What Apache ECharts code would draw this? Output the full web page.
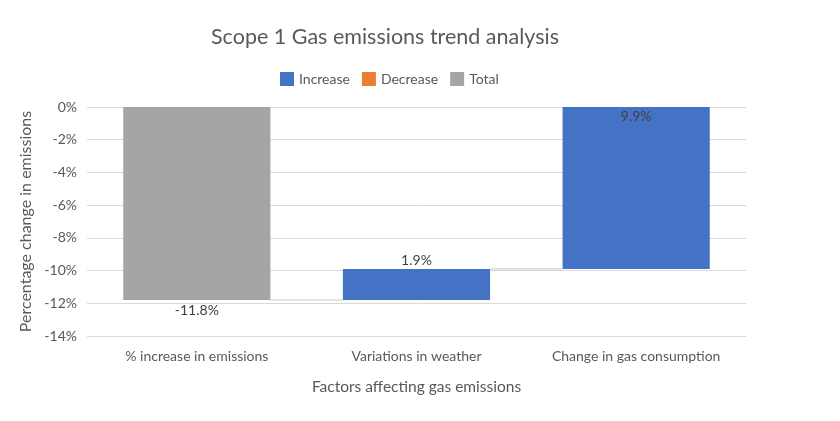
<!DOCTYPE html>
<html>
<head>
<meta charset="utf-8">
<script src="https://cdn.jsdelivr.net/npm/echarts@6/dist/echarts.min.js"></script>
<style>
  html, body { margin: 0; padding: 0; background: #fff; }
  #main { width: 840px; height: 421px; }
</style>
</head>
<body>
<div id="main"></div>
<script>
// data
var categories = ['% increase in emissions', 'Variations in weather', 'Change in gas consumption'];
var changes = [-11.8, 1.9, 9.9];
var kinds = ['total', 'increase', 'increase'];
var yTicks = { min: -14, max: 0, step: 2 };

// waterfall: work out where each bar starts and ends
var helper = [], incData = [], decData = [], totData = [], levels = [];
var level = 0;
for (var i = 0; i < changes.length; i++) {
    var from, to;
    if (kinds[i] === 'total') { from = 0; to = changes[i]; }
    else { from = level; to = level + changes[i]; }
    level = to;
    levels.push(level);
    var hi = Math.max(from, to), lo = Math.min(from, to);
    if (kinds[i] === 'total') {
        helper.push('-'); totData.push(lo); incData.push('-'); decData.push('-');
    } else {
        helper.push(hi);
        var amt = lo - hi;
        incData.push(kinds[i] === 'increase' ? amt : '-');
        decData.push(kinds[i] === 'decrease' ? amt : '-');
        totData.push('-');
    }
}

var labelPos = ['bottom', 'top', 'insideTop'];
var labelDist = [3, 1, 2];
function withLabels(arr) {
    return arr.map(function (v, i) {
        if (v === '-') return v;
        return { value: v, label: { show: true, position: labelPos[i], distance: labelDist[i], formatter: changes[i].toFixed(1) + '%' } };
    });
}

var txt = '#595959';
var font = 'Lato';
var myChart = echarts.init(document.getElementById('main'));
myChart.setOption({
    animation: false,
    textStyle: { fontFamily: font },
    title: {
        text: 'Scope 1 Gas emissions trend analysis',
        left: 380, top: 21, textAlign: 'center',
        textStyle: { fontFamily: font, fontSize: 21.5, fontWeight: 'normal', color: txt }
    },
    legend: {
        left: 275, top: 67,
        itemWidth: 14, itemHeight: 14, itemGap: 12, icon: 'rect',
        data: ['Increase', 'Decrease', 'Total'],
        textStyle: { fontFamily: font, fontSize: 14, color: txt }
    },
    grid: { left: 87, right: 94, top: 107, bottom: 85 },
    xAxis: {
        type: 'category',
        data: categories,
        name: 'Factors affecting gas emissions',
        nameLocation: 'middle', nameGap: 43,
        nameTextStyle: { fontFamily: font, fontSize: 15.5, color: txt },
        axisLine: { show: false },
        axisTick: { show: false },
        axisLabel: { fontFamily: font, fontSize: 14, color: txt, margin: 13 }
    },
    yAxis: {
        type: 'value',
        min: yTicks.min, max: yTicks.max, interval: yTicks.step,
        name: 'Percentage change in emissions',
        nameLocation: 'middle', nameGap: 52,
        nameTextStyle: { fontFamily: font, fontSize: 16, color: txt },
        axisLabel: { fontFamily: font, fontSize: 14, color: txt, formatter: '{value}%', margin: 10 },
        splitLine: { lineStyle: { color: '#d9d9d9', width: 1 } }
    },
    series: [
        {
            name: 'helper', type: 'bar', stack: 'wf', data: helper,
            itemStyle: { color: 'transparent' }, silent: true,
            barCategoryGap: '33%', legendHoverLink: false
        },
        {
            name: 'Increase', type: 'bar', stack: 'wf', data: withLabels(incData),
            itemStyle: { color: '#4472C4' },
            label: { color: '#404040', fontSize: 14, fontFamily: font }
        },
        {
            name: 'Decrease', type: 'bar', stack: 'wf', data: withLabels(decData),
            itemStyle: { color: '#ED7D31' },
            label: { color: '#404040', fontSize: 14, fontFamily: font }
        },
        {
            name: 'Total', type: 'bar', stack: 'wf', data: withLabels(totData),
            itemStyle: { color: '#A5A5A5' },
            label: { color: '#404040', fontSize: 14, fontFamily: font }
        },
        {
            // connectors between bars
            name: 'connector', type: 'custom', silent: true, z: 1,
            data: levels.slice(0, -1).map(function (v, i) { return [i, v]; }),
            renderItem: function (params, api) {
                var i = api.value(0), v = api.value(1);
                var p1 = api.coord([i, v]), p2 = api.coord([i + 1, v]);
                var half = api.size([1, 0])[0] * 0.67 / 2;
                return {
                    type: 'line',
                    shape: { x1: p1[0] + half, y1: p1[1], x2: p2[0] - half, y2: p2[1] },
                    style: { stroke: '#c8c8c8', lineWidth: 1 }
                };
            }
        }
    ]
});
</script>
</body>
</html>
